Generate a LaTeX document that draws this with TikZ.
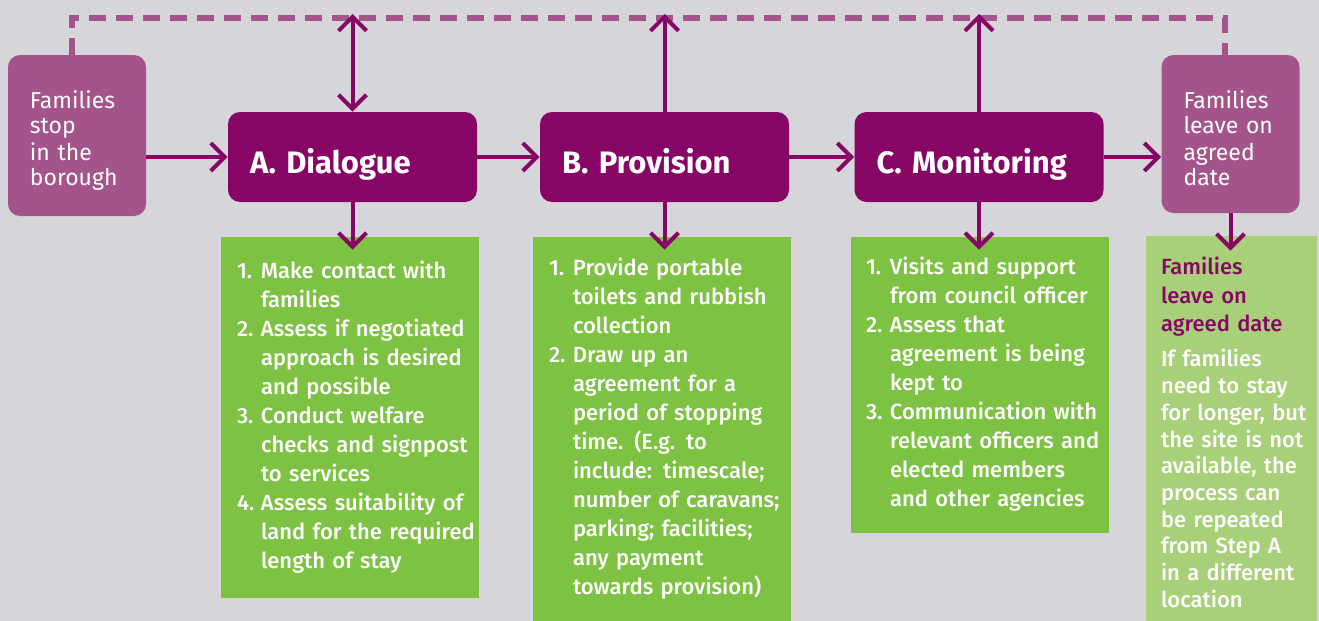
\documentclass[tikz,border=0pt]{standalone}
\usepackage{fontspec}
\setmainfont{Fira Sans}
\newfontfamily\medfont{Fira Sans Medium}
\usetikzlibrary{arrows.meta}

\definecolor{bgGrey}{HTML}{D6D5DA}
\definecolor{plum}{HTML}{A3558B}
\definecolor{magentaDark}{HTML}{860565}
\definecolor{leafGreen}{HTML}{7DC242}
\definecolor{paleGreen}{HTML}{A8D079}

\begin{document}
\begin{tikzpicture}[x=0.5pt,y=-0.5pt,
        endbox/.style={fill=plum,rounded corners=6pt,text=white,align=left,
          font=\fontsize{11.5}{13}\selectfont,inner xsep=11pt,text width=47pt,minimum width=69pt,
          text height=8pt,text depth=35.5pt},
        stagebox/.style={fill=magentaDark,rounded corners=6pt,text=white,align=left,
          font=\fontsize{15.5}{17}\selectfont\bfseries,inner xsep=11pt,text width=102.5pt,
          minimum width=124.5pt,minimum height=45pt,text height=16pt,text depth=0pt},
        listbox/.style={fill=leafGreen,text=white,align=left,
          font=\fontsize{11}{14.5}\selectfont\medfont,inner xsep=8pt,text width=113pt,minimum width=129pt},
        flow/.style={draw=magentaDark,line width=2pt,-{Straight Barb[length=7pt,width=14pt]}},
        twoway/.style={draw=magentaDark,line width=2pt,{Straight Barb[length=7pt,width=14pt]}-{Straight Barb[length=7pt,width=14pt]}},
        returnline/.style={draw=plum,line width=3pt,dash pattern=on 8.5pt off 5pt}]

        \useasboundingbox[fill=bgGrey] (0,0) rectangle (1319,621);

        \node[endbox,minimum height=80.5pt] (L) at (77,135.5) {Families\\stop\\in the\\borough};

        \node[stagebox] (A) at (352.5,157) {A. Dialogue};
        \node[stagebox] (B) at (664.5,157) {B. Provision};
        \node[stagebox,minimum width=124pt] (C) at (979,157) {C. Monitoring};

        \node[endbox,minimum height=79pt,text depth=34pt] (R) at (1230.5,134) {Families\\leave on\\agreed\\date};

        \node[listbox,minimum height=180.5pt] (GA) at (350,417.5) {%
          \begin{tabular}{@{}p{12pt}@{}l@{}}
          1. & Make contact with\\
             & families\\
          2. & Assess if negotiated\\
             & approach is desired\\
             & and possible\\
          3. & Conduct welfare\\
             & checks and signpost\\
             & to services\\
          4. & Assess suitability of\\
             & land for the required\\
             & length of stay
          \end{tabular}};

        \node[listbox,minimum height=192pt] (GB) at (662,429) {%
          \begin{tabular}{@{}p{12pt}@{}l@{}}
          1. & Provide portable\\
             & toilets and rubbish\\
             & collection\\
          2. & Draw up an\\
             & agreement for a\\
             & period of stopping\\
             & time. (E.g. to\\
             & include: timescale;\\
             & number of caravans;\\
             & parking; facilities;\\
             & any payment\\
             & towards provision)
          \end{tabular}};

        \node[listbox,inner xsep=7.5pt,text width=114pt,minimum height=148pt] (GC) at (980,385) {%
          \begin{tabular}{@{}p{12pt}@{}l@{}}
          1. & Visits and support\\
             & from council officer\\
          2. & Assess that\\
             & agreement is being\\
             & kept to\\
          3. & Communication with\\
             & relevant officers and\\
             & elected members\\
             & and other agencies
          \end{tabular}};

        \node[listbox,fill=paleGreen,inner xsep=7.5pt,text width=70.5pt,minimum width=85.5pt,
          font=\fontsize{11}{13.35}\selectfont\medfont,minimum height=199.8pt] (GR) at (1231.5,435.8) {%
          \begin{tabular}{@{}l@{}}
          \textcolor{magentaDark}{Families}\\[0.9pt]
          \textcolor{magentaDark}{leave on}\\[0.9pt]
          \textcolor{magentaDark}{agreed date}\\[4.15pt]
          If families\\
          need to stay\\
          for longer, but\\
          the site is not\\
          available, the\\
          process can\\
          be repeated\\
          from Step A\\
          in a different\\
          location
          \end{tabular}};

        \coordinate (dl) at (72,18);
        \coordinate (dr) at (1225,18);

        % dashed return path over the top
        \draw[returnline] (dl |- L.north) -- (dl) -- (dr) -- (dr |- R.north);

        \draw[flow] (L.east |- A.west) -- (A.west);
        \draw[flow] (A.east) -- (B.west);
        \draw[flow] (B.east) -- (C.west);
        \draw[flow] (C.east) -- (R.west |- C.east);

        \draw[twoway,shorten <=-2pt] (A.north |- dl) -- (A.north);
        \draw[flow,shorten >=-2pt] (B.north) -- (B.north |- dl);
        \draw[flow,shorten >=-2pt] (C.north) -- (C.north |- dl);

        \draw[flow,shorten >=-6.5pt] (A.south) -- (A.south |- GA.north);
        \draw[flow,shorten >=-6.5pt] (B.south) -- (B.south |- GB.north);
        \draw[flow,shorten >=-6.5pt] (C.south) -- (C.south |- GC.north);
        \draw[flow,shorten >=-7.5pt] (R.south) -- (R.south |- GR.north);

    \end{tikzpicture}
\end{document}
